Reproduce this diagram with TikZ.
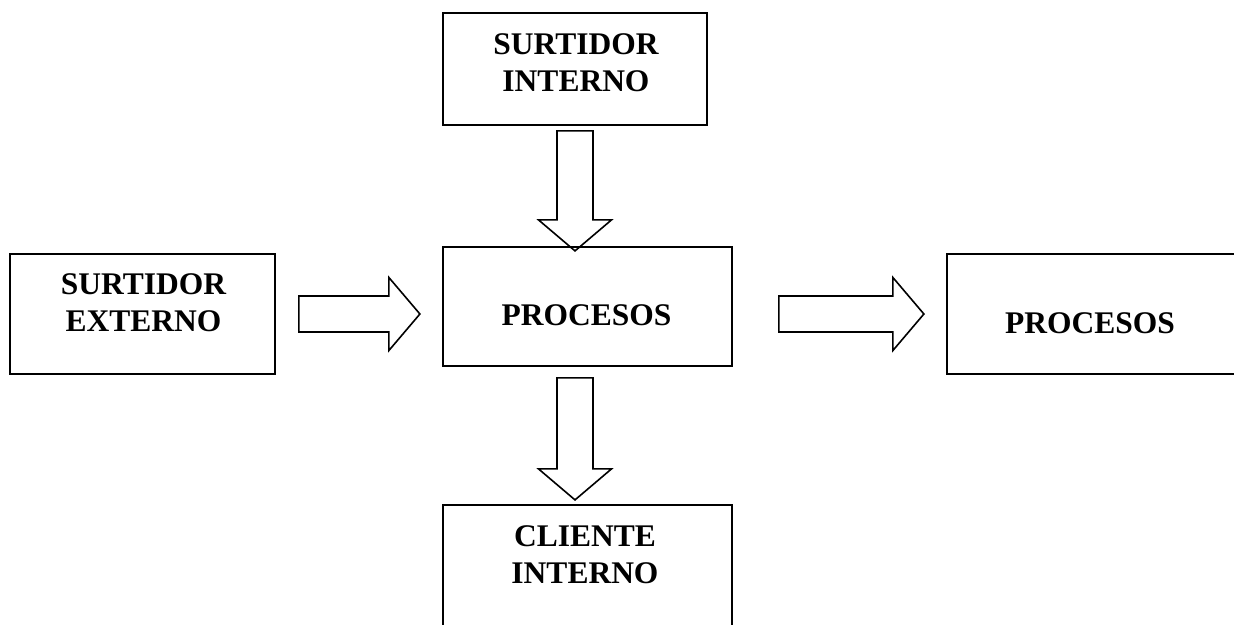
\documentclass[tikz,border=0pt]{standalone}
\usepackage{fontspec}
\setmainfont{Liberation Serif}
\usetikzlibrary{calc}
\tikzset{
  boxnode/.style={draw, line width=1.8pt, rectangle, inner sep=0pt},
  txt/.style={font=\bfseries\fontsize{31.5}{37}\selectfont, align=center, inner sep=0pt, anchor=north},
  pics/barrow/.style={code={
    \draw[line width=1.6pt, line join=miter] (0,-18) -- (#1-31,-18) -- (#1-31,-36.5) -- (#1,0)
      -- (#1-31,36.5) -- (#1-31,18) -- (0,18) -- cycle;
  }}
}
\begin{document}
\begin{tikzpicture}[x=1pt, y=-1pt]
\useasboundingbox (0,0) rectangle (1234,624);
\node[boxnode, minimum width=265pt, minimum height=120pt] (ext) at (142.5,314) {};
\node[boxnode, minimum width=264pt, minimum height=112pt] (si) at (575,69) {};
\node[boxnode, minimum width=289pt, minimum height=119pt] (proc) at (587.5,306.5) {};
\node[boxnode, minimum width=298pt, minimum height=120pt] (pr) at (1096,314) {};
\node[boxnode, minimum width=289pt, minimum height=135pt] (ci) at (587.5,572.5) {};

\node[txt] (t1) at (143.5,273) {SURTIDOR\\EXTERNO};
\node[txt] (t2) at (576,33) {SURTIDOR\\INTERNO};
\node[txt] (t3) at (586.5,304) {PROCESOS};
\node[txt] (t4) at (1090,312) {PROCESOS};
\node[txt] (t5) at (585,525) {CLIENTE\\INTERNO};

\coordinate (a1) at ($(ext.east)+(23,0)$);
\coordinate (a2) at ($(ext.east -| proc.east)+(46,0)$);
\coordinate (a3) at ($(si.south)+(0,5)$);
\coordinate (a4) at ($(proc.south -| si.south)+(0,11)$);
\pic at (a1) {barrow=121};
\pic at (a2) {barrow=145};
\pic[rotate=-90] at (a3) {barrow=120};
\pic[rotate=-90] at (a4) {barrow=122};
\end{tikzpicture}
\end{document}
